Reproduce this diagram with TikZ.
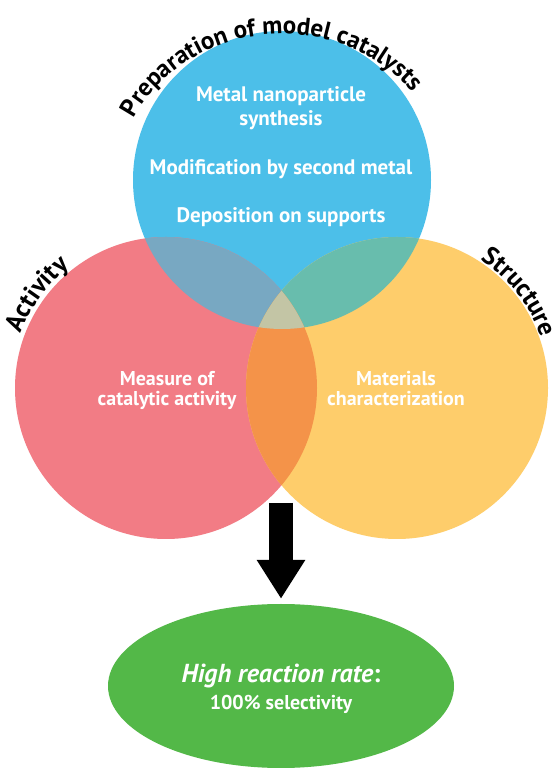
\documentclass[tikz,border=0pt]{standalone}
\usepackage{fontspec}
\setmainfont{PT Sans}
\usetikzlibrary{shapes.geometric,arrows.meta,decorations.text}
\definecolor{cB}{RGB}{76,191,233}
\definecolor{cR}{RGB}{242,124,133}
\definecolor{cY}{RGB}{254,205,107}
\definecolor{cRY}{RGB}{244,147,73}
\definecolor{cBR}{RGB}{120,168,194}
\definecolor{cBY}{RGB}{104,189,173}
\definecolor{cT}{RGB}{195,197,165}
\definecolor{cG}{RGB}{83,184,72}
\begin{document}
\begin{tikzpicture}[x=1pt,y=1pt,
  wtext/.style={text=white,font=\bfseries\fontsize{21}{21}\selectfont,anchor=base,inner sep=0pt},
  stext/.style={wtext,font=\bfseries\fontsize{20}{20}\selectfont},
  curvetext/.style 2 args={decorate,decoration={text along path,text align=center,text={|\bfseries\fontsize{#1}{#1}\selectfont|#2}}}]
\useasboundingbox (0,0) rectangle (552,768);
\fill[white] (0,0) rectangle (552,768);
% circles
\fill[cB] (282,588) circle (149);
\fill[cR] (166,380) circle (151);
\fill[cY] (397,380) circle (151);
\begin{scope}\clip (282,588) circle (149); \fill[cBR] (166,380) circle (151); \end{scope}
\begin{scope}\clip (282,588) circle (149); \fill[cBY] (397,380) circle (151); \end{scope}
\begin{scope}\clip (166,380) circle (151); \fill[cRY] (397,380) circle (151); \end{scope}
\begin{scope}\clip (282,588) circle (149); \clip (166,380) circle (151); \fill[cT] (397,380) circle (151); \end{scope}
% curved titles
\path[curvetext={25}{Preparation of model catalysts}] (282,584) ++(176:165 and 150) arc[start angle=176,end angle=16,x radius=165,y radius=150];
\path[curvetext={26}{Activity}] (166,380) ++(176:155) arc[start angle=176,end angle=112,radius=155];
\path[curvetext={25.5}{Structure}] (397,380) ++(72:153) arc[start angle=72,end angle=4,radius=153];
% inner texts
\node[wtext] (t1) at (281,666) {Metal nanoparticle};
\node[wtext] (t2) at (281,642) {synthesis};
\node[wtext] (t3) at (281,593) {Modification by second metal};
\node[wtext] (t4) at (281,545) {Deposition on supports};
\node[stext] (a1) at (167,382) {Measure of};
\node[stext] (a2) at (167,362) {catalytic activity};
\node[stext] (s1) at (396,382) {Materials};
\node[stext] (s2) at (396,362) {characterization};
% result
\node[ellipse,fill=cG,minimum width=346pt,minimum height=164pt,inner sep=0pt] (goal) at (281,82) {};
\node[wtext,font=\bfseries\fontsize{26}{26}\selectfont] (g1) at (281,85) {\textit{High reaction rate}:};
\node[wtext,font=\bfseries\fontsize{20}{20}\selectfont] (g2) at (281,58) {100\% selectivity};
\coordinate (atop) at (281,265);
\draw[line width=24pt,-{Triangle[width=46pt,length=39pt]}] (atop) -- ([yshift=5pt]goal.north);
\end{tikzpicture}
\end{document}
